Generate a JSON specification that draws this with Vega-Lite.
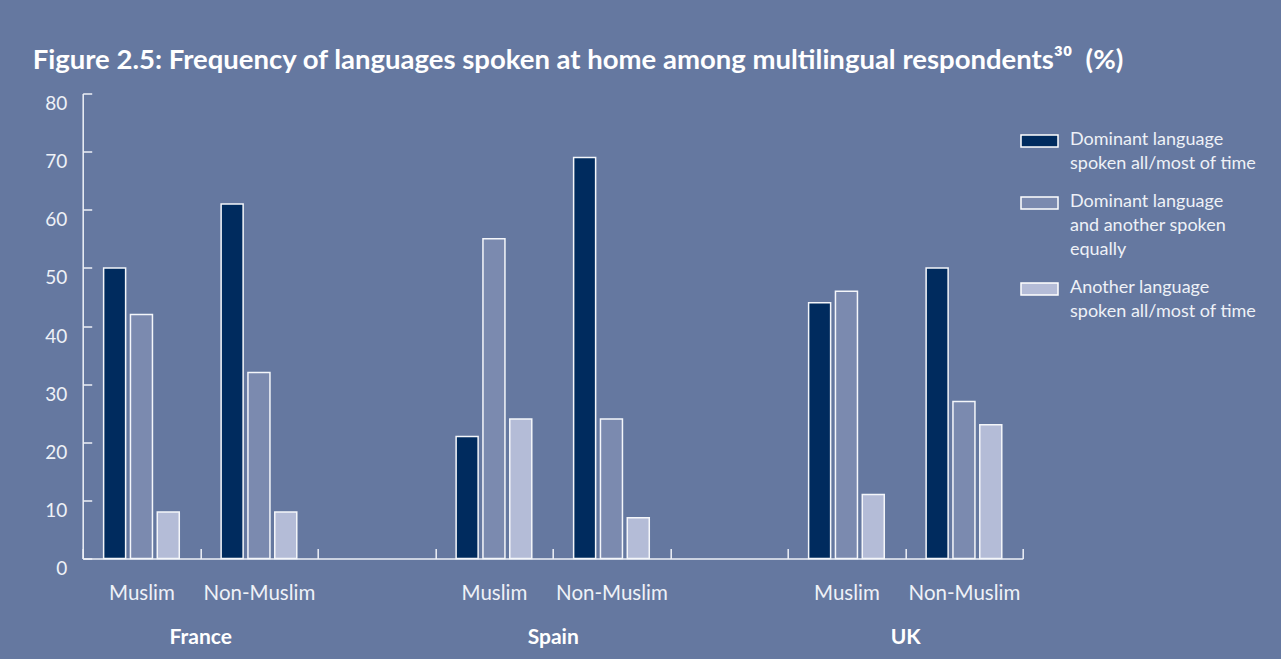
{
  "$schema": "https://vega.github.io/schema/vega-lite/v6.json",
  "width": 940,
  "height": 465,
  "autosize": {"type": "none"},
  "padding": {"left": 82.7, "top": 93.5, "right": 258.3, "bottom": 100.5},
  "background": "#6578a0",
  "config": {"view": {"stroke": null}, "font": "Lato"},
  "title": {
    "text": "Figure 2.5: Frequency of languages spoken at home among multilingual respondents³⁰\u00a0\u00a0(%)",
    "anchor": "start",
    "frame": "group",
    "dx": -50,
    "dy": 6,
    "offset": 2,
    "baseline": "alphabetic",
    "fontSize": 27.5,
    "fontWeight": "bold",
    "color": "#ffffff",
    "font": "Lato"
  },
  "data": {
    "values": [
      {"country": "France", "group": "France|Muslim", "response": "Dominant language|spoken all/most of time", "value": 50},
      {"country": "France", "group": "France|Muslim", "response": "Dominant language|and another spoken|equally", "value": 42},
      {"country": "France", "group": "France|Muslim", "response": "Another language|spoken all/most of time", "value": 8},
      {"country": "France", "group": "France|Non-Muslim", "response": "Dominant language|spoken all/most of time", "value": 61},
      {"country": "France", "group": "France|Non-Muslim", "response": "Dominant language|and another spoken|equally", "value": 32},
      {"country": "France", "group": "France|Non-Muslim", "response": "Another language|spoken all/most of time", "value": 8},
      {"country": "Spain", "group": "Spain|Muslim", "response": "Dominant language|spoken all/most of time", "value": 21},
      {"country": "Spain", "group": "Spain|Muslim", "response": "Dominant language|and another spoken|equally", "value": 55},
      {"country": "Spain", "group": "Spain|Muslim", "response": "Another language|spoken all/most of time", "value": 24},
      {"country": "Spain", "group": "Spain|Non-Muslim", "response": "Dominant language|spoken all/most of time", "value": 69},
      {"country": "Spain", "group": "Spain|Non-Muslim", "response": "Dominant language|and another spoken|equally", "value": 24},
      {"country": "Spain", "group": "Spain|Non-Muslim", "response": "Another language|spoken all/most of time", "value": 7},
      {"country": "UK", "group": "UK|Muslim", "response": "Dominant language|spoken all/most of time", "value": 44},
      {"country": "UK", "group": "UK|Muslim", "response": "Dominant language|and another spoken|equally", "value": 46},
      {"country": "UK", "group": "UK|Muslim", "response": "Another language|spoken all/most of time", "value": 11},
      {"country": "UK", "group": "UK|Non-Muslim", "response": "Dominant language|spoken all/most of time", "value": 50},
      {"country": "UK", "group": "UK|Non-Muslim", "response": "Dominant language|and another spoken|equally", "value": 27},
      {"country": "UK", "group": "UK|Non-Muslim", "response": "Another language|spoken all/most of time", "value": 23}
    ]
  },
  "layer": [
    {
      "mark": {"type": "bar", "stroke": "#f4f6fa", "strokeWidth": 1.5},
      "encoding": {
        "x": {
          "field": "group",
          "type": "nominal",
          "sort": null,
          "scale": {
            "domain": ["France|Muslim", "France|Non-Muslim", "gap1", "Spain|Muslim", "Spain|Non-Muslim", "gap2", "UK|Muslim", "UK|Non-Muslim"],
            "paddingInner": 0,
            "paddingOuter": 0
          },
          "axis": {
            "title": null,
            "tickBand": "extent",
            "tickSize": -10,
            "tickColor": "#eef1f7",
            "tickWidth": 1.5,
            "domainColor": "#eef1f7",
            "domainWidth": 1.5,
            "labelPadding": 51,
            "labelBaseline": "alphabetic",
            "labelAngle": 0,
            "labelFontSize": 20.5,
            "labelColor": "#eef1f7",
            "labelFont": "Lato",
            "labelExpr": "indexof(datum.label, '|') < 0 ? '' : split(datum.label, '|')[1]",
            "grid": false
          }
        },
        "xOffset": {
          "field": "response",
          "type": "nominal",
          "sort": ["Dominant language|spoken all/most of time", "Dominant language|and another spoken|equally", "Another language|spoken all/most of time"],
          "scale": {"paddingInner": 0.18, "paddingOuter": 0.78}
        },
        "y": {
          "field": "value",
          "type": "quantitative",
          "scale": {"domain": [0, 80], "nice": false},
          "axis": {
            "title": null,
            "values": [0, 10, 20, 30, 40, 50, 60, 70, 80],
            "grid": false,
            "domainColor": "#eef1f7",
            "domainWidth": 1.5,
            "tickColor": "#eef1f7",
            "tickWidth": 1.5,
            "tickSize": -9,
            "labelPadding": 25,
            "labelOffset": 10,
            "labelFontSize": 19,
            "labelColor": "#eef1f7",
            "labelFont": "Lato"
          }
        },
        "fill": {
          "field": "response",
          "type": "nominal",
          "scale": {
            "domain": ["Dominant language|spoken all/most of time", "Dominant language|and another spoken|equally", "Another language|spoken all/most of time"],
            "range": ["#002b5e", "#7b8aaf", "#b4bcd7"]
          },
          "legend": {
            "title": null,
            "orient": "none",
            "legendX": 937.3,
            "legendY": 28,
            "padding": 0,
            "symbolType": "M-1,-0.324H1V0.324H-1Z",
            "symbolSize": 1369,
            "symbolStrokeColor": "#ffffff",
            "symbolStrokeWidth": 1.5,
            "symbolOpacity": 1,
            "labelFontSize": 18,
            "labelColor": "#eef1f7",
            "labelFont": "Lato",
            "labelOffset": 11,
            "labelLimit": 300,
            "rowPadding": 10,
            "labelBaseline": "top",
            "labelExpr": "split(datum.label, '|')",
            "encode": {"labels": {"update": {"lineHeight": {"value": 24}, "dy": {"value": -10}}}}
          }
        }
      }
    },
    {
      "mark": {"type": "point", "opacity": 0},
      "encoding": {
        "x": {
          "field": "country",
          "type": "nominal",
          "scale": {"type": "point", "domain": ["France", "Spain", "UK"], "padding": 0.3333},
          "axis": {
            "orient": "bottom",
            "title": null,
            "domain": false,
            "ticks": false,
            "grid": false,
            "labelPadding": 85,
            "labelBaseline": "alphabetic",
            "labelAngle": 0,
            "labelFontWeight": "bold",
            "labelFontSize": 21,
            "labelColor": "#ffffff",
            "labelFont": "Lato"
          }
        },
        "y": {"field": "value", "type": "quantitative"}
      }
    }
  ],
  "resolve": {"scale": {"x": "independent"}, "axis": {"x": "independent"}}
}
